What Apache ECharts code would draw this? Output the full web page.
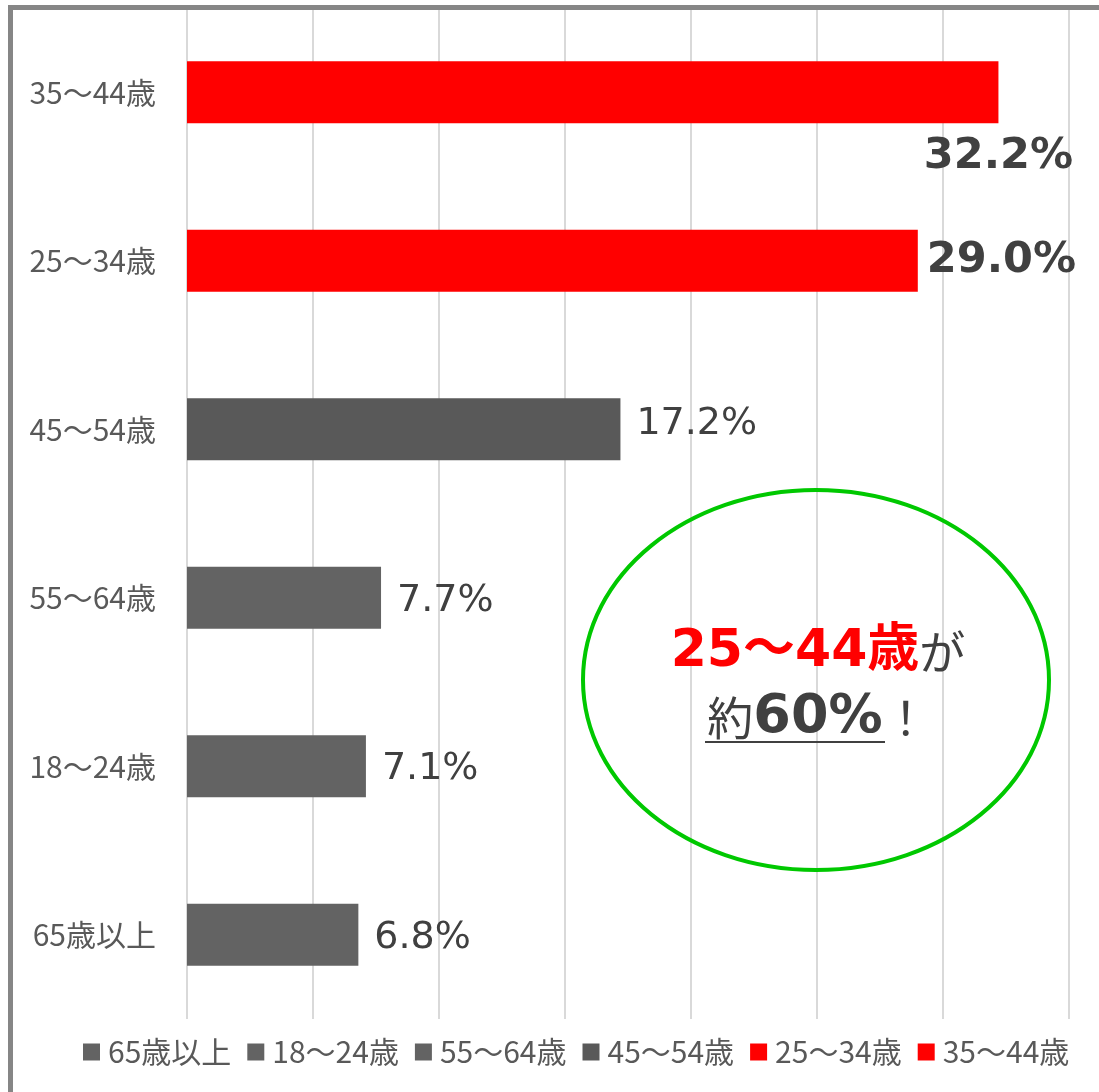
<!DOCTYPE html>
<html>
<head>
<meta charset="utf-8">
<script src="https://cdn.jsdelivr.net/npm/echarts@6/dist/echarts.min.js"></script>
<style>
  html, body { margin: 0; padding: 0; background: #fff; }
  #chart { width: 1099px; height: 1092px; }
</style>
</head>
<body>
<div id="chart"></div>
<script>
// 年齢層 (下から上の順)
const categories = ['65歳以上', '18〜24歳', '55〜64歳', '45〜54歳', '25〜34歳', '35〜44歳'];
const values = [6.8, 7.1, 7.7, 17.2, 29.0, 32.2];
const barColors = ['#636363', '#636363', '#636363', '#595959', '#ff0000', '#ff0000'];
const xTicks = [0, 5, 10, 15, 20, 25, 30, 35];

const FONT = '"Noto Sans CJK JP", "Noto Sans", sans-serif';
const NUM_FONT = '"DejaVu Sans", "Noto Sans CJK JP", sans-serif';

const chart = echarts.init(document.getElementById('chart'));

// 各年齢層を別シリーズにする (凡例に全部出すため)
const series = categories.map((name, i) => {
  const data = categories.map((_, j) => (j === i ? values[i] : '-'));
  let label = {
    show: true,
    position: 'right',
    distance: 16,
    offset: [0, 3],
    fontFamily: NUM_FONT,
    fontSize: 38,
    color: '#404040',
    formatter: p => p.value.toFixed(1) + '%'
  };
  if (i === 3) {
    label = { ...label, offset: [0, -5] };
  }
  if (i === 4) {
    label = { ...label, fontSize: 43, fontWeight: 'bold', distance: 9, offset: [0, 0] };
  }
  if (i === 5) {
    // 一番上のバーはラベルを下に
    label = {
      ...label,
      fontSize: 43,
      fontWeight: 'bold',
      position: ['100%', '100%'],
      align: 'center',
      verticalAlign: 'middle',
      offset: [0, 34]
    };
  }
  return {
    name: name,
    type: 'bar',
    stack: 'total',
    barWidth: 62,
    data: data,
    itemStyle: { color: barColors[i] },
    label: label,
    emphasis: { disabled: true }
  };
});

const option = {
  animation: false,
  textStyle: { fontFamily: FONT },
  grid: { left: 187, right: 30, top: 8, bottom: 73 },
  legend: {
    left: 78,
    top: 1032,
    icon: 'rect',
    itemWidth: 17,
    itemHeight: 17,
    itemGap: 16,
    textStyle: { fontFamily: FONT, fontSize: 30, color: '#595959', padding: [0, 0, 0, 3] },
    data: categories
  },
  xAxis: {
    type: 'value',
    min: xTicks[0],
    max: xTicks[xTicks.length - 1],
    interval: xTicks[1] - xTicks[0],
    axisLabel: { show: false },
    axisLine: { show: false },
    axisTick: { show: false },
    splitLine: { lineStyle: { color: '#d9d9d9', width: 2 } }
  },
  yAxis: {
    type: 'category',
    data: categories,
    axisLine: { show: false },
    axisTick: { show: false },
    axisLabel: { fontFamily: FONT, fontSize: 30, color: '#595959', margin: 31 }
  },
  series: series,
  graphic: [
    // 外枠
    {
      type: 'rect',
      z: 100,
      silent: true,
      shape: { x: 10.5, y: 7.5, width: 1200, height: 1200 },
      style: { fill: 'none', stroke: '#868686', lineWidth: 5 }
    },
    // 緑の楕円
    {
      type: 'ellipse',
      z: 100,
      shape: { cx: 816, cy: 680, rx: 233, ry: 190 },
      style: { fill: 'none', stroke: '#00c800', lineWidth: 4 }
    },
    {
      type: 'text',
      z: 101,
      style: {
        x: 818,
        y: 685,
        align: 'center',
        verticalAlign: 'middle',
        text: '{r|25〜44歳}{g|が}\n{g|約}{b|60%}{g|！}',
        rich: {
          r: { fontFamily: NUM_FONT, fontSize: 52, fontWeight: 'bold', fill: '#ff0000', lineHeight: 66 },
          g: { fontFamily: FONT, fontSize: 46, fill: '#404040', lineHeight: 66 },
          b: { fontFamily: NUM_FONT, fontSize: 54, fontWeight: 'bold', fill: '#404040', lineHeight: 66 }
        }
      }
    },
    // 下線
    {
      type: 'line',
      z: 101,
      shape: { x1: 705, y1: 742, x2: 885, y2: 742 },
      style: { stroke: '#404040', lineWidth: 2 }
    }
  ]
};

chart.setOption(option);
</script>
</body>
</html>
